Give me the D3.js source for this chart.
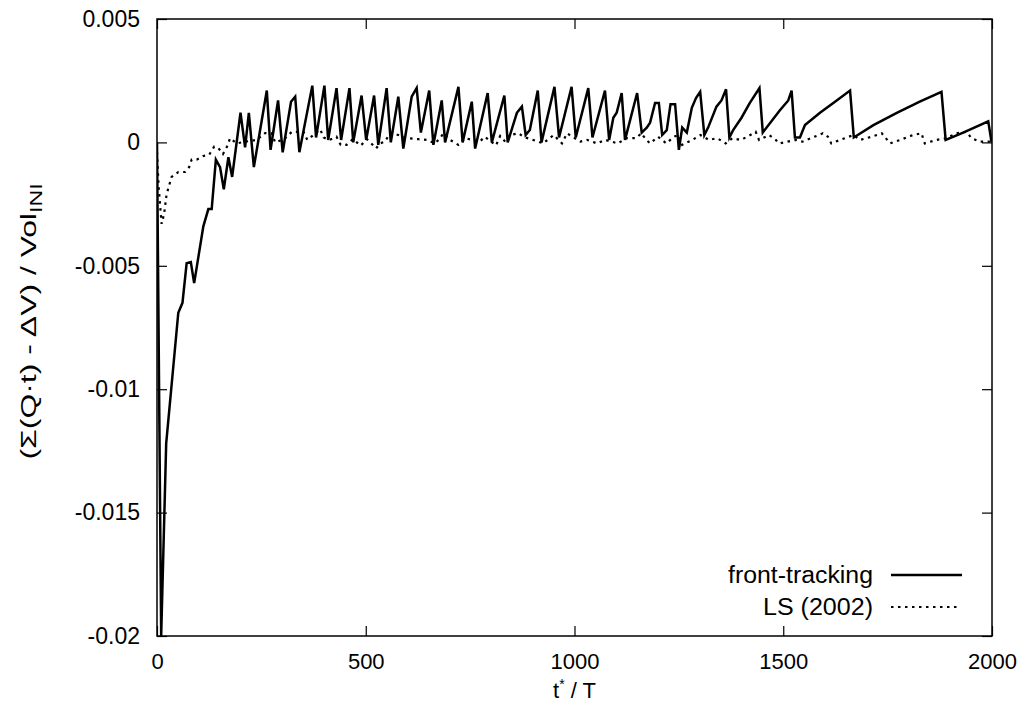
<!DOCTYPE html>
<html>
<head>
<meta charset="utf-8">
<script src="https://cdn.jsdelivr.net/npm/d3@7"></script>
<style>
  body { margin: 0; background: #fff; }
  svg { display: block; }
  text { font-family: "Liberation Sans", Arial, Helvetica, sans-serif; fill: #000; }
  .axis path { display: none; }
  .axis line { stroke: #000; stroke-width: 1.2px; }
</style>
</head>
<body>
<svg id="chart"></svg>
<script>
// front-tracking series
const ftTime = [0, 10, 22, 51, 61, 71, 81, 89, 111, 123, 131, 141, 151, 160, 171, 180,
  200, 211, 220, 232, 263, 272, 290, 301, 321, 331, 341, 372, 381, 401, 410, 430,
  441, 461, 470, 490, 501, 520, 530, 550, 560, 578, 590, 610, 622, 632, 652, 662,
  682, 690, 722, 732, 754, 762, 792, 802, 832, 840, 862, 874, 883, 893, 912, 921,
  952, 963, 993, 1003, 1033, 1043, 1073, 1083, 1093, 1101, 1113, 1121, 1150, 1161, 1173, 1181,
  1193, 1202, 1210, 1221, 1230, 1241, 1250, 1258, 1269, 1281, 1291, 1301, 1311, 1320, 1340, 1352,
  1363, 1371, 1380, 1400, 1420, 1443, 1451, 1492, 1512, 1520, 1528, 1540, 1552, 1588, 1624, 1660,
  1669, 1716, 1772, 1827, 1879, 1889, 1931, 1991, 1999];
const ftValue = [0, -0.0200, -0.0122, -0.0069, -0.0065, -0.0049, -0.00485, -0.0057, -0.0034, -0.0027, -0.0027, -0.0007, -0.0010, -0.0019, -0.0006, -0.0014,
  0.0012, -0.0002, 0.0012, -0.0010, 0.0021, -0.0003, 0.0017, -0.0004, 0.00165, 0.00185, -0.0004, 0.0023, 0.0002, 0.0023, 0.0001, 0.0022,
  0.0001, 0.0022, 0.0000, 0.0019, 0.0001, 0.0019, -0.0001, 0.0022, 0.0000, 0.00185, -0.00025, 0.00185, 0.0022, 0.0004, 0.0021, -0.0001,
  0.0017, 0.0000, 0.00225, 0.0000, 0.00165, -0.00025, 0.0020, 0.0000, 0.0019, 0.0000, 0.0012, 0.00145, 0.0003, 0.0005, 0.0021, 0.0000,
  0.00225, 0.0002, 0.00225, 0.0002, 0.0022, 0.0002, 0.0021, 0.0001, 0.0010, 0.0012, 0.0020, 0.0001, 0.0020, 0.0004, 0.0006, 0.0008,
  0.0016, 0.0016, 0.0003, 0.0005, 0.00155, 0.00155, -0.0003, 0.0006, 0.0004, 0.0014, 0.0018, 0.00205, 0.0003, 0.0006, 0.00145, 0.0017,
  0.00215, 0.0002, 0.0005, 0.0010, 0.0016, 0.0022, 0.0004, 0.0013, 0.0017, 0.0021, 0.0002, 0.0002, 0.0007, 0.0012, 0.00165, 0.0021,
  0.0002, 0.0007, 0.0012, 0.00165, 0.00205, 0.0001, 0.0004, 0.00085, 0.0000];

// LS (2002) series
const lsTime = [0, 4, 11, 17, 23, 35, 51, 67, 77, 83, 95, 111, 125, 137, 147, 158,
  169, 175, 191, 211, 239, 259, 275, 283, 295, 303, 323, 351, 360, 375, 391, 399,
  413, 430, 440, 454, 469, 488, 503, 525, 534, 546, 558, 578, 600, 626, 646, 666,
  678, 686, 702, 722, 738, 773, 785, 812, 822, 834, 846, 866, 877, 901, 913, 925,
  950, 970, 982, 998, 1014, 1030, 1054, 1074, 1104, 1124, 1148, 1160, 1172, 1181, 1200, 1220,
  1238, 1250, 1258, 1282, 1302, 1322, 1342, 1362, 1378, 1398, 1414, 1434, 1442, 1466, 1482, 1490,
  1530, 1546, 1595, 1607, 1615, 1636, 1668, 1684, 1712, 1736, 1756, 1780, 1811, 1831, 1839, 1867,
  1891, 1915, 1939, 1951, 1971, 1995];
const lsValue = [-0.0004, -0.0018, -0.0033, -0.0029, -0.0021, -0.0014, -0.0012, -0.0012, -0.0010, -0.0007, -0.0007, -0.00055, -0.0005, -0.00017, -0.00023, -0.00047,
  -0.00013, 0.00017, -0.00004, 0.00003, 0.0001, 0.00038, 0.00037, 0.0, 0.00007, 0.0001, 0.00043, 0.00043, 0.0001, 0.0003, 0.00053, 0.0002,
  0.0001, 0.00023, -0.0001, -0.0001, 0.00013, -0.00013, 0.00013, -0.00024, -0.00004, 0.00003, 0.00037, 0.0003, 0.00017, 0.00013, 0.0001, -0.00004,
  0.00017, 0.00037, 0.0001, -0.0001, 0.00017, 0.00003, 0.00023, -0.00012, 0.00026, 0.00003, 0.0003, 0.00037, 0.00023, 0.0001, 0.00003, -0.00004,
  0.0003, -0.00004, 0.00037, 0.0002, 0.00003, 0.0001, -0.00004, 0.0001, -0.00004, 0.00017, 0.00017, 0.00037, 0.0001, -0.00004, 0.00023, -0.00004,
  0.00023, 0.0003, -0.0001, 0.0001, 0.0003, 0.0001, 0.00017, -0.00004, 0.00017, 0.0001, 0.00023, 0.00043, 0.0001, 0.0003, 0.0001, -0.00004,
  0.0001, 0.00003, 0.00037, 0.00023, -0.00004, 0.0001, 0.0003, 0.0001, 0.00023, 0.00037, -0.00004, 0.0001, 0.0003, 0.00037, -0.00004, 0.0001,
  0.00017, 0.00037, 0.00043, 0.00017, 0.00003, 0.00003];

const xTicks = [0, 500, 1000, 1500, 2000];
const yTicks = [0.005, 0, -0.005, -0.01, -0.015, -0.02];
const yTickLabels = ['0.005', '0', '-0.005', '-0.01', '-0.015', '-0.02'];
const seriesNames = ['front-tracking', 'LS (2002)'];

const width = 1025;
const height = 717;
const margin = {top: 19, right: 33, bottom: 81, left: 157};

let svg = d3.select('#chart')
  .attr('width', width)
  .attr('height', height);

const xScale = d3.scaleLinear()
  .domain([0, 2000])
  .range([margin.left, width - margin.right]);

const yScale = d3.scaleLinear()
  .domain([-0.02, 0.005])
  .range([height - margin.bottom, margin.top]);

// clip so the spike below -0.02 stays inside the frame
svg.append('clipPath').attr('id', 'plot-clip')
  .append('rect')
  .attr('x', margin.left)
  .attr('y', margin.top)
  .attr('width', xScale(2000) - xScale(0))
  .attr('height', yScale(-0.02) - yScale(0.005));

// axes, ticks pointing inward and mirrored
const tickLen = 10;
svg.append('g').attr('class', 'axis')
  .attr('transform', `translate(0, ${yScale(-0.02)})`)
  .call(d3.axisBottom(xScale).tickValues(xTicks).tickSize(-tickLen).tickPadding(17).tickFormat(d3.format('d')))
  .selectAll('text').style('font-size', '22px');

svg.append('g').attr('class', 'axis')
  .attr('transform', `translate(0, ${yScale(0.005)})`)
  .call(d3.axisTop(xScale).tickValues(xTicks).tickSize(-tickLen).tickFormat(''));

svg.append('g').attr('class', 'axis')
  .attr('transform', `translate(${xScale(0)}, 0)`)
  .call(d3.axisLeft(yScale).tickValues(yTicks).tickSize(-tickLen).tickPadding(17)
    .tickFormat((d, i) => yTickLabels[i]))
  .selectAll('text').style('font-size', '23px');

svg.append('g').attr('class', 'axis')
  .attr('transform', `translate(${xScale(2000)}, 0)`)
  .call(d3.axisRight(yScale).tickValues(yTicks).tickSize(-tickLen).tickFormat(''));

// frame
svg.append('rect')
  .attr('x', xScale(0))
  .attr('y', yScale(0.005))
  .attr('width', xScale(2000) - xScale(0))
  .attr('height', yScale(-0.02) - yScale(0.005))
  .attr('fill', 'none')
  .attr('stroke', '#000')
  .attr('stroke-width', 1.5);

// lines
const ftData = ftTime.map((t, i) => ({t, v: ftValue[i]}));
const lsData = lsTime.map((t, i) => ({t, v: lsValue[i]}));

const line = d3.line()
  .x(d => xScale(d.t))
  .y(d => yScale(d.v));

let plot = svg.append('g').attr('clip-path', 'url(#plot-clip)');

plot.append('path')
  .datum(lsData)
  .attr('d', line)
  .attr('fill', 'none')
  .attr('stroke', '#000')
  .attr('stroke-width', 2.2)
  .attr('stroke-dasharray', '2.5,4.5');

plot.append('path')
  .datum(ftData)
  .attr('d', line)
  .attr('fill', 'none')
  .attr('stroke', '#000')
  .attr('stroke-width', 2.5)
  .attr('stroke-linejoin', 'miter');

// axis titles
let xLabel = svg.append('text')
  .attr('x', (xScale(0) + xScale(2000)) / 2)
  .attr('y', 698)
  .attr('text-anchor', 'middle')
  .style('font-size', '22px');
xLabel.append('tspan').text('t');
xLabel.append('tspan').attr('dy', -9).style('font-size', '14px').text('*');
xLabel.append('tspan').attr('dy', 9).text(' / T');

// y title, stretched along its baseline like the original
let yLabel = svg.append('text')
  .attr('transform', `translate(36, ${(yScale(0.005) + yScale(-0.02)) / 2 - 6}) rotate(-90) scale(1.45, 1)`)
  .attr('text-anchor', 'middle')
  .style('font-size', '22px');
yLabel.append('tspan').text('(\u03A3(Q\u00B7t) - \u0394V) / Vol');
yLabel.append('tspan').attr('dy', 6).style('font-size', '16px').text('INI');

// legend
const legendRows = [
  {name: seriesNames[0], y: 575, dash: null, x2: 962, len: 145},
  {name: seriesNames[1], y: 607, dash: '2.5,4.5', x2: 958, len: 110}
];
let legend = svg.append('g');
legendRows.forEach(r => {
  legend.append('text')
    .attr('x', 873)
    .attr('y', r.y + 8)
    .attr('text-anchor', 'end')
    .attr('textLength', r.len)
    .attr('lengthAdjust', 'spacingAndGlyphs')
    .style('font-size', '23px')
    .text(r.name);
  legend.append('line')
    .attr('x1', 891)
    .attr('x2', r.x2)
    .attr('y1', r.y)
    .attr('y2', r.y)
    .attr('stroke', '#000')
    .attr('stroke-width', r.dash ? 2.2 : 2.5)
    .attr('stroke-dasharray', r.dash);
});
</script>
</body>
</html>
